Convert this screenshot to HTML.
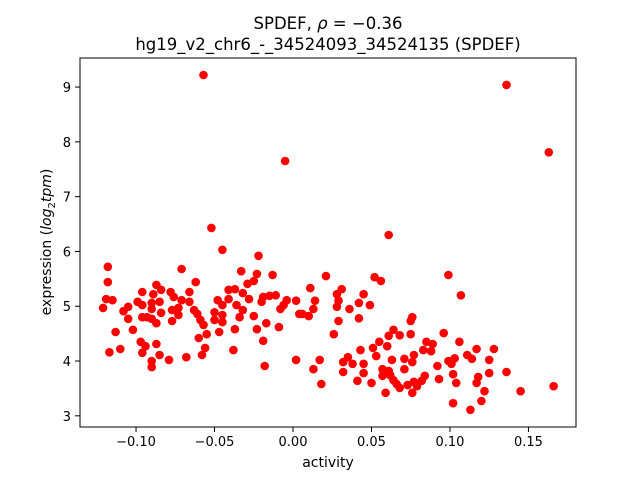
<!DOCTYPE html>
<html><head><meta charset="utf-8"><style>
body{margin:0;background:#fff;width:640px;height:480px;overflow:hidden}
svg{font-family:"DejaVu Sans","Liberation Sans",sans-serif}
</style></head><body>
<svg id="chart" width="640" height="480" viewBox="0 0 640 480" xmlns="http://www.w3.org/2000/svg">
<rect width="640" height="480" fill="#fff"/>
<text x="328" y="29" font-size="16.5" text-anchor="middle">SPDEF, <tspan font-style="italic">ρ</tspan> = −0.36</text>
<text x="328" y="50" font-size="16.5" text-anchor="middle">hg19_v2_chr6_-_34524093_34524135 (SPDEF)</text>
<g id="points"></g>
<g id="axes"></g>
<text x="328" y="467" font-size="14" text-anchor="middle">activity</text>
<text transform="translate(51,242) rotate(-90)" font-size="14" text-anchor="middle">expression (<tspan font-style="italic">log</tspan><tspan font-size="10" dy="4">2</tspan><tspan dy="-4" font-style="italic">tpm</tspan>)</text>
</svg>
<script>
const xVals=[-0.052,-0.045,-0.022,-0.118,-0.071,-0.033,-0.023,-0.013,-0.118,-0.062,-0.025,-0.029,-0.087,-0.084,-0.096,-0.078,-0.066,-0.041,-0.037,-0.089,-0.076,-0.032,-0.119,-0.115,-0.099,-0.071,-0.048,-0.041,-0.028,-0.019,-0.015,-0.011,-0.004,0.002,-0.090,-0.085,-0.066,-0.096,-0.045,-0.036,-0.020,-0.006,-0.121,-0.105,-0.108,-0.090,-0.077,-0.073,-0.063,-0.050,-0.032,-0.008,-0.084,-0.061,-0.045,-0.034,-0.025,-0.096,-0.093,-0.073,0.004,-0.105,-0.090,-0.077,-0.059,-0.050,-0.045,-0.087,-0.057,-0.017,-0.113,-0.102,-0.037,-0.023,-0.009,-0.047,-0.055,-0.060,-0.019,-0.097,-0.087,-0.094,-0.110,-0.056,-0.038,-0.117,-0.096,-0.085,-0.058,-0.079,-0.068,-0.090,0.002,-0.090,-0.018,-0.057,-0.005,
0.061,0.021,0.052,0.056,0.099,0.011,0.031,0.028,0.045,0.107,0.014,0.029,0.042,0.049,0.028,0.013,0.036,0.006,0.010,0.042,0.029,0.076,0.075,0.026,0.064,0.061,0.068,0.075,0.096,0.055,0.051,0.060,0.043,0.085,0.089,0.083,0.088,0.106,0.117,0.128,0.111,0.114,0.125,0.017,0.035,0.032,0.038,0.053,0.063,0.071,0.077,0.076,0.099,0.103,0.101,0.045,0.013,0.032,0.045,0.057,0.061,0.071,0.092,0.136,0.125,0.102,0.057,0.062,0.084,0.118,0.093,0.041,0.050,0.018,0.064,0.066,0.077,0.082,0.104,0.117,0.068,0.073,0.079,0.122,0.145,0.166,0.059,0.076,0.120,0.102,0.113,0.136,0.163];
const yVals=[6.43,6.03,5.92,5.72,5.68,5.64,5.59,5.57,5.44,5.44,5.46,5.41,5.39,5.30,5.26,5.26,5.26,5.30,5.31,5.22,5.17,5.24,5.13,5.11,5.08,5.11,5.11,5.13,5.13,5.17,5.19,5.20,5.11,5.10,5.06,5.08,5.08,5.02,5.02,5.02,5.08,5.02,4.97,4.99,4.91,4.95,4.93,4.97,4.93,4.89,4.93,4.95,4.88,4.86,4.84,4.80,4.82,4.80,4.80,4.84,4.86,4.77,4.77,4.73,4.75,4.75,4.71,4.69,4.66,4.69,4.53,4.57,4.58,4.58,4.62,4.53,4.49,4.42,4.37,4.35,4.31,4.27,4.22,4.24,4.20,4.16,4.15,4.11,4.11,4.02,4.07,4.00,4.02,3.89,3.91,9.22,7.65,
6.30,5.55,5.53,5.46,5.57,5.33,5.31,5.22,5.22,5.20,5.10,5.10,5.06,5.02,4.99,4.95,4.95,4.86,4.82,4.78,4.73,4.80,4.73,4.49,4.57,4.46,4.47,4.49,4.51,4.35,4.24,4.27,4.20,4.35,4.31,4.20,4.18,4.35,4.22,4.22,4.11,4.04,4.02,4.02,4.07,3.98,3.95,4.09,4.02,4.04,4.11,3.98,4.00,4.05,3.95,3.95,3.85,3.80,3.78,3.85,3.82,3.85,3.91,3.80,3.78,3.76,3.73,3.74,3.73,3.71,3.67,3.64,3.60,3.58,3.65,3.58,3.62,3.64,3.60,3.60,3.51,3.56,3.54,3.45,3.45,3.54,3.42,3.42,3.27,3.23,3.11,9.04,7.81];
const xTicks=[-0.10,-0.05,0.00,0.05,0.10,0.15];
const xTickLabels=["−0.10","−0.05","0.00","0.05","0.10","0.15"];
const yTicks=[3,4,5,6,7,8,9];
const yTickLabels=["3","4","5","6","7","8","9"];
const L=80,R=576,T=58,B=427;
const xMin=-0.1357,xMax=0.1803,yMin=2.796,yMax=9.53;
function sx(v){return L+(v-xMin)/(xMax-xMin)*(R-L);}
function sy(v){return B-(v-yMin)/(yMax-yMin)*(B-T);}
const NS="http://www.w3.org/2000/svg";
const pg=document.getElementById('points');
for(let i=0;i<xVals.length;i++){
  const c=document.createElementNS(NS,'circle');
  c.setAttribute('cx',sx(xVals[i]).toFixed(1));
  c.setAttribute('cy',sy(yVals[i]).toFixed(1));
  c.setAttribute('r','4.3');
  c.setAttribute('fill','#ff0000');
  
  
  pg.appendChild(c);
}
const ax=document.getElementById('axes');
const frame=document.createElementNS(NS,'rect');
frame.setAttribute('x',L);frame.setAttribute('y',T);
frame.setAttribute('width',R-L);frame.setAttribute('height',B-T);
frame.setAttribute('fill','none');frame.setAttribute('stroke','#000');frame.setAttribute('stroke-width','1');


ax.appendChild(frame);
xTicks.forEach((t,i)=>{
  const x=sx(t);
  const l=document.createElementNS(NS,'line');
  l.setAttribute('x1',x);l.setAttribute('x2',x);l.setAttribute('y1',B);l.setAttribute('y2',B+5);l.setAttribute('stroke','#000');
  
  
  ax.appendChild(l);
  const tx=document.createElementNS(NS,'text');
  tx.setAttribute('x',x);tx.setAttribute('y',B+19);tx.setAttribute('font-size','13');tx.setAttribute('text-anchor','middle');
  tx.textContent=xTickLabels[i];
  
  
  ax.appendChild(tx);
});
yTicks.forEach((t,i)=>{
  const y=sy(t);
  const l=document.createElementNS(NS,'line');
  l.setAttribute('x1',L-5);l.setAttribute('x2',L);l.setAttribute('y1',y);l.setAttribute('y2',y);l.setAttribute('stroke','#000');
  
  
  ax.appendChild(l);
  const tx=document.createElementNS(NS,'text');
  tx.setAttribute('x',L-9);tx.setAttribute('y',y+5);tx.setAttribute('font-size','13');tx.setAttribute('text-anchor','end');
  tx.textContent=yTickLabels[i];
  
  
  ax.appendChild(tx);
});
</script>
</body></html>
